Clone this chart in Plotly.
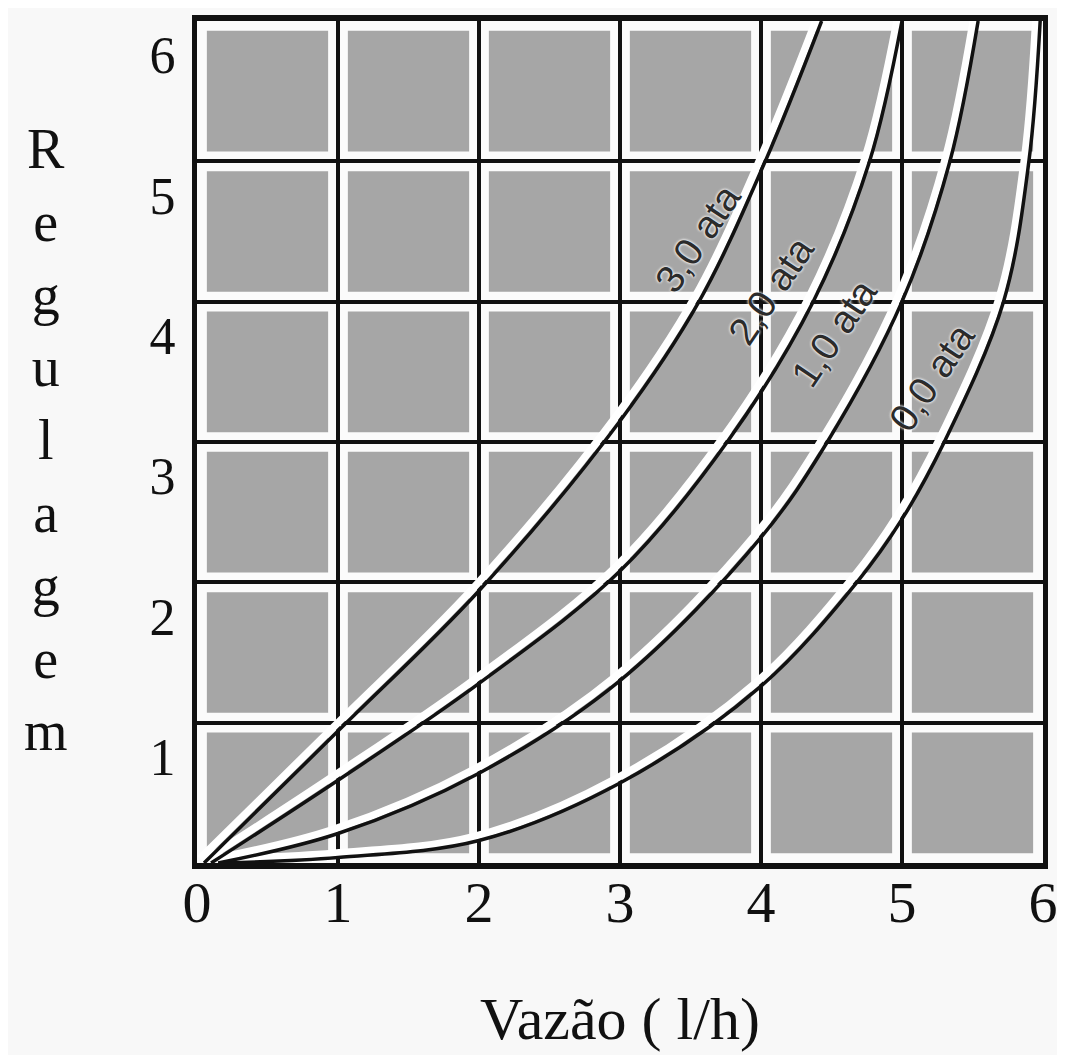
import plotly.graph_objects as go

# ---- data ----
x_ticks = [0, 1, 2, 3, 4, 5, 6]
y_ticks = [1, 2, 3, 4, 5, 6]

curve_names = ["3,0 ata", "2,0 ata", "1,0 ata", "0,0 ata"]

flow_30 = [0.05, 1.0, 2.0, 3.0, 3.56, 4.03, 4.43]
reg_30 = [0.0, 0.94, 1.94, 3.15, 4.0, 5.0, 6.0]

flow_20 = [0.10, 1.0, 2.0, 3.0, 3.76, 4.37, 4.77, 5.0]
reg_20 = [0.0, 0.59, 1.28, 2.08, 3.0, 4.0, 5.0, 6.0]

flow_10 = [0.15, 1.0, 2.0, 3.0, 4.0, 4.47, 5.0, 5.34, 5.54]
reg_10 = [0.0, 0.21, 0.64, 1.30, 2.32, 3.0, 4.0, 5.0, 6.0]

flow_00 = [0.20, 1.0, 2.0, 3.0, 4.0, 4.68, 5.0, 5.30, 5.72, 5.9, 5.98]
reg_00 = [0.0, 0.04, 0.16, 0.57, 1.26, 2.0, 2.45, 3.0, 4.0, 5.0, 6.0]

curves_x = [flow_30, flow_20, flow_10, flow_00]
curves_y = [reg_30, reg_20, reg_10, reg_00]

# label anchor points (data coords) along each curve
label_x = [3.55, 4.07, 4.52, 5.21]
label_y = [4.45, 4.08, 3.78, 3.46]

# ---- figure ----
# the page body has an 8px margin, so the figure is 8px smaller than the window
fig = go.Figure()

halo = 0.03
for cx, cy in zip(curves_x, curves_y):
    fig.add_trace(go.Scatter(
        x=[v - halo for v in cx], y=[v + halo for v in cy],
        mode="lines", line=dict(color="white", width=7.5, shape="spline"),
        hoverinfo="skip", showlegend=False))
for name, cx, cy in zip(curve_names, curves_x, curves_y):
    fig.add_trace(go.Scatter(
        x=cx, y=cy, name=name, mode="lines",
        line=dict(color="#111111", width=3.5, shape="spline"),
        showlegend=False))

# gray cells with white margins (drawn beneath grid lines)
inset = 0.07
shapes = []
for i in range(len(x_ticks) - 1):
    for j in range(len(x_ticks) - 1):
        shapes.append(dict(
            type="rect", xref="x", yref="y", layer="below",
            x0=x_ticks[i] + inset, x1=x_ticks[i + 1] - inset,
            y0=x_ticks[j] + inset, y1=x_ticks[j + 1] - inset,
            fillcolor="#a6a6a6", line=dict(width=0)))

annotations = []
for name, lx, ly in zip(curve_names, label_x, label_y):
    annotations.append(dict(
        x=lx, y=ly, xref="x", yref="y", text=name, showarrow=False,
        textangle=-56,
        font=dict(family="Liberation Sans Narrow, Liberation Sans, Arial",
                  size=39, color="#2b2b2b",
                  shadow="0px 0px 3px white, 0px 0px 3px white")))

# vertical axis title (stacked letters)
annotations.append(dict(
    x=-0.179, y=0.502, xref="paper", yref="paper",
    text="<br>".join(list("Regulagem")), showarrow=False,
    xanchor="center", yanchor="middle", align="center",
    font=dict(family="Liberation Serif, Times New Roman, serif", size=56, color="#111111")))

# horizontal axis title
annotations.append(dict(
    x=0.5, y=-0.185, xref="paper", yref="paper",
    text="Vazão ( l/h)", showarrow=False,
    xanchor="center", yanchor="middle",
    font=dict(family="Liberation Serif, Times New Roman, serif", size=60, color="#111111")))

fig.update_layout(
    width=1057, height=1047,
    margin=dict(l=189, r=18, t=7, b=192),
    paper_bgcolor="#f8f8f8",
    plot_bgcolor="#fbfbfb",
    shapes=shapes,
    annotations=annotations,
    showlegend=False,
)

fig.update_xaxes(
    range=[0, 6], tickvals=x_ticks, ticktext=[str(v) for v in x_ticks],
    showgrid=True, gridcolor="#111111", gridwidth=4, zeroline=False,
    showline=True, linecolor="#111111", linewidth=6, mirror=True,
    ticks="", ticklabelstandoff=-17,
    tickfont=dict(family="Liberation Serif, Times New Roman, serif", size=58, color="#111111"),
)
fig.update_yaxes(
    range=[0, 6], tickvals=y_ticks, ticktext=[str(v) for v in y_ticks],
    showgrid=True, gridcolor="#111111", gridwidth=4, zeroline=False,
    showline=True, linecolor="#111111", linewidth=5, mirror=True,
    ticks="", ticklabelstandoff=6, ticklabelshift=34,
    tickfont=dict(family="Liberation Serif, Times New Roman, serif", size=52, color="#111111"),
)

fig.write_html("out.html")
